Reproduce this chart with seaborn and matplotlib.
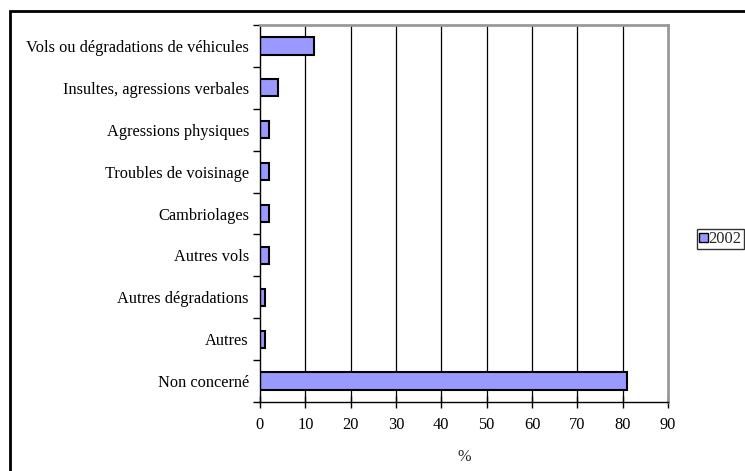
import matplotlib
matplotlib.use("Agg")
import matplotlib.pyplot as plt
import seaborn as sns
import numpy as np
import pandas as pd
from matplotlib.patches import Rectangle, Patch

categories = ["Vols ou dégradations de véhicules", "Insultes, agressions verbales",
              "Agressions physiques", "Troubles de voisinage", "Cambriolages",
              "Autres vols", "Autres dégradations", "Autres", "Non concerné"]
values_2002 = [12, 4, 2, 2, 2, 2, 1, 1, 81]
series_name = "2002"
x_ticks = [0, 10, 20, 30, 40, 50, 60, 70, 80, 90]
x_label = "%"

FS = 11.8
sns.set_theme(style="white")
plt.rcParams['font.family'] = ['Liberation Serif', 'DejaVu Serif']
plt.rcParams['font.size'] = FS

fig = plt.figure(figsize=(7.45, 4.71), dpi=100)
ax = fig.add_axes([260/745, 1-402/471, (668-260)/745, (402-25)/471])

df = pd.DataFrame({"cat": categories, "val": values_2002})
sns.barplot(data=df, y="cat", x="val", orient="h", color="#9999FF",
            edgecolor="black", linewidth=1.5, width=0.41, saturation=1, ax=ax)
for p in ax.patches:
    p.set_facecolor("#9999FF")

ax.set_xlim(0, 90)
ax.set_ylim(len(categories)-0.5, -0.5)
ax.set_xticks(x_ticks)
ax.set_xticklabels([str(t) for t in x_ticks], fontsize=FS, color="black")
ax.set_yticks(range(len(categories)))
ax.set_yticklabels(categories, fontsize=FS, color="black")
ax.tick_params(axis="y", which="major", length=0, pad=8)
ax.set_yticks(np.arange(-0.5, len(categories)), minor=True)
ax.tick_params(axis="y", which="minor", length=5, width=1, color="black", direction="out", left=True)
ax.tick_params(axis="x", which="major", length=8, width=1, color="black", direction="inout", bottom=True, pad=7)
ax.set_xlabel(x_label, fontsize=FS, labelpad=11)
ax.set_ylabel("")

ax.grid(False)
for x in x_ticks[1:-1]:
    ax.axvline(x, color="black", linewidth=0.9, zorder=0)
for side in ["left", "bottom"]:
    ax.spines[side].set_color("black")
    ax.spines[side].set_linewidth(1.0)
for side in ["top", "right"]:
    ax.spines[side].set_color("#999999")
    ax.spines[side].set_linewidth(2.0)
    ax.spines[side].set_visible(True)

handles = [Patch(facecolor="#9999FF", edgecolor="black", linewidth=1.0, label=series_name)]
leg = fig.legend(handles=handles, loc="center left", bbox_to_anchor=(697/745, 1-239/471),
                 frameon=True, fancybox=False, fontsize=FS, handlelength=0.5, handleheight=0.5,
                 handletextpad=0.05, borderpad=0.15, borderaxespad=0)
leg.get_frame().set_edgecolor("black")
leg.get_frame().set_linewidth(1.0)

fig.patches.append(Rectangle((10/745, -0.1), 1.0, 1-11/471+0.1, transform=fig.transFigure,
                             fill=False, edgecolor="black", linewidth=2.0))

fig.savefig("out.png", dpi=100)
